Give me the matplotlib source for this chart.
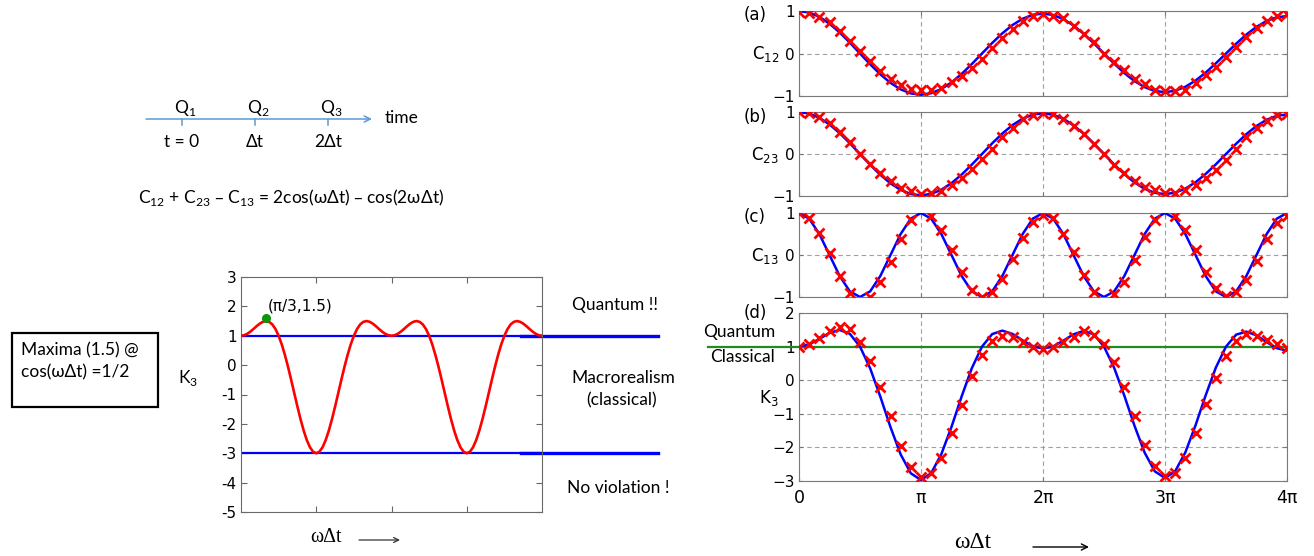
import numpy as np
import matplotlib
matplotlib.use("Agg")
import matplotlib.pyplot as plt
from matplotlib.patches import Rectangle

W, H = 1314, 556
CAL = ['Lato', 'DejaVu Sans']      # stand-in for the slide text font
SERIF = ['Liberation Serif', 'DejaVu Serif']

# ---------------- data ----------------
# left panel: K3 theory, sampled every pi/24 over 0..4pi
k3_curve = [1.0, 1.017, 1.066, 1.141, 1.232, 1.328, 1.414, 1.476, 1.5, 1.472, 1.384, 1.227,
            1.0, 0.705, 0.348, -0.058, -0.5, -0.959, -1.414, -1.846, -2.232, -2.555, -2.798, -2.949,
            -3.0, -2.949, -2.798, -2.555, -2.232, -1.846, -1.414, -0.959, -0.5, -0.058, 0.348, 0.705,
            1.0, 1.227, 1.384, 1.472, 1.5, 1.476, 1.414, 1.328, 1.232, 1.141, 1.066, 1.017,
            1.0, 1.017, 1.066, 1.141, 1.232, 1.328, 1.414, 1.476, 1.5, 1.472, 1.384, 1.227,
            1.0, 0.705, 0.348, -0.058, -0.5, -0.959, -1.414, -1.846, -2.232, -2.555, -2.798, -2.949,
            -3.0, -2.949, -2.798, -2.555, -2.232, -1.846, -1.414, -0.959, -0.5, -0.058, 0.348, 0.705,
            1.0, 1.227, 1.384, 1.472, 1.5, 1.476, 1.414, 1.328, 1.232, 1.141, 1.066, 1.017,
            1.0]
k3_bounds = [1, -3]          # quantum / classical limits
max_point = (np.pi / 3, 1.6)  # green dot
left_yticks = [-5, -4, -3, -2, -1, 0, 1, 2, 3]
left_ylabels = ['-5', '-4', '-3', '-2', '-1', '0', '1', '2', '3']

# right panels: theory (line) and measured (x), every pi/12 over 0..4pi
c12_fit = [1.000, 0.964, 0.862, 0.702, 0.495, 0.256, 0.0, -0.254, -0.490, -0.691, -0.844, -0.939,
           -0.970, -0.935, -0.836, -0.681, -0.480, -0.248, 0.0, 0.247, 0.475, 0.670, 0.818, 0.910,
           0.940, 0.906, 0.810, 0.659, 0.465, 0.240, 0.0, -0.239, -0.460, -0.649, -0.792, -0.881,
           -0.910, -0.877, -0.784, -0.638, -0.450, -0.232, 0.0, 0.231, 0.445, 0.627, 0.766, 0.852,
           0.880]
c12_meas = [0.98, 0.96, 0.87, 0.73, 0.53, 0.29, 0.055, -0.17, -0.40, -0.60, -0.73, -0.83,
            -0.87, -0.85, -0.80, -0.68, -0.53, -0.34, -0.13, 0.13, 0.36, 0.57, 0.77, 0.88,
            0.92, 0.88, 0.83, 0.65, 0.47, 0.26, 0.0, -0.21, -0.39, -0.60, -0.72, -0.85,
            -0.89, -0.88, -0.85, -0.69, -0.51, -0.31, -0.09, 0.16, 0.39, 0.59, 0.77, 0.89,
            0.93]
c23_fit = [1.000, 0.965, 0.864, 0.704, 0.498, 0.257, 0.0, -0.257, -0.495, -0.699, -0.855, -0.953,
           -0.985, -0.950, -0.851, -0.694, -0.490, -0.253, 0.0, 0.253, 0.488, 0.688, 0.842, 0.938,
           0.970, 0.936, 0.838, 0.683, 0.483, 0.250, 0.0, -0.249, -0.480, -0.678, -0.829, -0.924,
           -0.955, -0.921, -0.825, -0.673, -0.475, -0.246, 0.0, 0.245, 0.473, 0.667, 0.816, 0.909,
           0.940]
c23_meas = [1.0, 0.98, 0.88, 0.74, 0.52, 0.28, 0.0, -0.24, -0.45, -0.65, -0.80, -0.89,
            -0.96, -0.92, -0.89, -0.73, -0.58, -0.36, -0.12, 0.13, 0.40, 0.62, 0.83, 0.92,
            0.98, 0.95, 0.83, 0.67, 0.47, 0.24, 0.0, -0.25, -0.45, -0.65, -0.78, -0.86,
            -0.92, -0.92, -0.85, -0.73, -0.58, -0.37, -0.14, 0.12, 0.40, 0.62, 0.78, 0.92,
            0.95]
c13_fit = [1.0, 0.866, 0.5, 0.0, -0.5, -0.866, -1.0, -0.866, -0.5, 0.0, 0.5, 0.866,
           1.0, 0.866, 0.5, 0.0, -0.5, -0.866, -1.0, -0.866, -0.5, 0.0, 0.5, 0.866,
           1.0, 0.866, 0.5, 0.0, -0.5, -0.866, -1.0, -0.866, -0.5, 0.0, 0.5, 0.866,
           1.0, 0.866, 0.5, 0.0, -0.5, -0.866, -1.0, -0.866, -0.5, 0.0, 0.5, 0.866,
           1.0]
c13_meas = [1.0, 0.89, 0.52, 0.05, -0.51, -0.90, np.nan, -1.0, -0.65, -0.17, 0.39, 0.84,
            np.nan, 0.94, 0.60, 0.13, -0.40, -0.83, -1.0, -0.89, -0.57, -0.10, 0.40, 0.79,
            0.96, 0.87, 0.51, 0.07, -0.48, -0.87, np.nan, -0.94, -0.65, -0.13, 0.43, 0.83,
            np.nan, 0.94, 0.60, 0.13, -0.40, -0.79, -0.98, -0.88, -0.59, -0.14, 0.37, 0.76,
            0.92]
k3_fit = [1.0, 1.064, 1.228, 1.409, 1.495, 1.381, 1.0, 0.353, -0.490, -1.398, -2.210, -2.771,
          -2.970, -2.767, -2.202, -1.388, -0.480, 0.359, 1.0, 1.372, 1.475, 1.377, 1.184, 1.010,
          0.940, 1.006, 1.176, 1.366, 1.465, 1.365, 1.0, 0.368, -0.460, -1.356, -2.158, -2.713,
          -2.910, -2.709, -2.150, -1.345, -0.450, 0.375, 1.0, 1.356, 1.445, 1.334, 1.132, 0.952,
          0.880]
k3_meas = [0.98, 1.08, 1.27, 1.45, 1.58, 1.53, 1.13, 0.57, -0.20, -1.07, -1.95, -2.59,
           -2.87, -2.75, -2.33, -1.58, -0.74, 0.13, 0.75, 1.17, 1.33, 1.30, 1.15, 1.00,
           0.92, 1.00, 1.13, 1.30, 1.45, 1.35, 1.07, 0.53, -0.20, -1.07, -1.93, -2.54,
           -2.84, -2.77, -2.33, -1.58, -0.72, 0.07, 0.72, 1.18, 1.38, 1.33, 1.20, 1.07,
           0.97]
x_labels = ['0', 'π', '2π', '3π', '4π']

timeline_Q = ['Q$_{\\mathregular{1}}$', 'Q$_{\\mathregular{2}}$', 'Q$_{\\mathregular{3}}$']
timeline_t = ['t = 0', 'Δt', '2Δt']

x_fine = np.arange(len(k3_curve)) * np.pi / 24
x_grid = np.arange(len(c12_fit)) * np.pi / 12


def box(x0, y0, x1, y1):
    # pixel box (top-left origin) -> figure fraction
    return [x0 / W, 1 - y1 / H, (x1 - x0) / W, (y1 - y0) / H]


plt.rcParams['font.family'] = ['DejaVu Sans']
plt.rcParams['mathtext.fontset'] = 'dejavusans'

fig = plt.figure(figsize=(W / 100, H / 100), dpi=100)

# ---------------- left panel ----------------
axl = fig.add_axes(box(241, 277, 542, 512))
for yb in k3_bounds:
    axl.axhline(yb, color='#0000ff', lw=1.6, zorder=2)
    axl.axhline(yb, xmin=0.93, xmax=1.385, color='#0000ff', lw=2.4, clip_on=False, zorder=2)
axl.plot(x_fine, k3_curve, color='#ff0000', lw=1.9, zorder=3)
axl.plot(*max_point, 'o', color='#0a960a', ms=5.5, zorder=4)
axl.text(max_point[0] + 0.05, 2.0, '(π/3,1.5)', fontsize=11, va='center', ha='left')
axl.set_xlim(0, 4 * np.pi)
axl.set_ylim(-5, 3)
axl.set_xticks(np.arange(1, 4) * np.pi)
axl.set_xticklabels([])
axl.set_yticks(left_yticks)
axl.set_yticklabels(left_ylabels, fontsize=11)
axl.tick_params(direction='in', length=4, color='#666', top=True, right=True, pad=3)
for s in axl.spines.values():
    s.set_color('#6a6a6a')

# ---------------- right panels ----------------
def style_right(ax, yt, show_x):
    ax.set_xlim(0, 4 * np.pi)
    ax.set_ylim(yt[0], yt[-1])
    ax.set_xticks(np.arange(5) * np.pi)
    ax.set_yticks(yt)
    ax.set_yticklabels([str(v).replace('-', '−') for v in yt], fontsize=11)
    if show_x:
        ax.set_xticklabels(x_labels, fontsize=12.5)
    else:
        ax.set_xticklabels([])
    ax.grid(True, ls=(0, (4, 3)), color='#a0a0a0', lw=0.8)
    ax.tick_params(direction='in', length=3, color='#777', top=True, right=True, pad=3)
    ax.tick_params(axis='x', pad=6)
    for s in ax.spines.values():
        s.set_color('#7a7a7a')


panels = [(c12_fit, c12_meas, (11, 96), [-1, 0, 1]),
          (c23_fit, c23_meas, (112, 196), [-1, 0, 1]),
          (c13_fit, c13_meas, (213, 297), [-1, 0, 1]),
          (k3_fit, k3_meas, (313, 481), [-3, -2, -1, 0, 1, 2])]
axes_r = []
for i, (fit, meas, (y0, y1), yt) in enumerate(panels):
    ax = fig.add_axes(box(799, y0, 1287, y1))
    ax.plot(x_grid, fit, color='#0000ff', lw=1.8, zorder=3)
    ax.plot(x_grid, meas, 'x', color='#ff0000', ms=6.5, mew=2.0, zorder=4)
    style_right(ax, yt, i == 3)
    axes_r.append(ax)

# quantum / classical border in (d), runs out past the left edge
axes_r[3].axhline(1, xmin=-0.187, xmax=1, color='#1e8c1e', lw=1.6, clip_on=False, zorder=2)

# ---------------- overlay (text, arrows, box) ----------------
bg = fig.add_axes([0, 0, 1, 1], zorder=10)
bg.set_xlim(0, W)
bg.set_ylim(H, 0)
bg.axis('off')

# timeline
bg.annotate('', xy=(372, 119), xytext=(146, 119),
            arrowprops=dict(arrowstyle='->', color='#5b9bd5', lw=1.1,
                            mutation_scale=11, shrinkA=0, shrinkB=0))
for xt, q, t in zip([182, 255, 328], timeline_Q, timeline_t):
    bg.plot([xt, xt], [119, 125], color='#5b9bd5', lw=1.1)
    bg.text(xt + 3, 108, q, family=CAL, fontsize=12.5, ha='center', va='center')
    bg.text(xt, 142, t, family=CAL, fontsize=12.5, ha='center', va='center')
bg.text(385, 118, 'time', family=CAL, fontsize=12.5, ha='left', va='center')

bg.text(291, 198, 'C$_{\\mathregular{12}}$ + C$_{\\mathregular{23}}$ – C$_{\\mathregular{13}}$'
        ' = 2cos(ωΔt) – cos(2ωΔt)', family=CAL, fontsize=12.5, ha='center', va='center')

# note box
bg.add_patch(Rectangle((12, 333), 146, 74, fill=False, ec='black', lw=1.6))
bg.text(21, 350, 'Maxima (1.5) @', family=CAL, fontsize=12.5, ha='left', va='center')
bg.text(21, 372, 'cos(ωΔt) =1/2', family=CAL, fontsize=12.5, ha='left', va='center')

# left panel labels
bg.text(188, 378, 'K$_{\\mathregular{3}}$', family=CAL, fontsize=12.5, ha='center', va='center')
bg.text(326, 538, 'ωΔt', family=SERIF, fontsize=14.5, ha='center', va='center')
bg.annotate('', xy=(400, 540), xytext=(359, 540),
            arrowprops=dict(arrowstyle='->', color='#333', lw=0.9,
                            mutation_scale=9, shrinkA=0, shrinkB=0))
bg.text(572, 305, 'Quantum !!', family=CAL, fontsize=12.5, ha='left', va='center')
bg.text(571, 378, 'Macrorealism', family=CAL, fontsize=12.5, ha='left', va='center')
bg.text(586, 400, '(classical)', family=CAL, fontsize=12.5, ha='left', va='center')
bg.text(567, 488, 'No violation !', family=CAL, fontsize=12.5, ha='left', va='center')

# right panel labels
for lab, yc in zip(['(a)', '(b)', '(c)', '(d)'], [15, 117, 217, 313]):
    bg.text(755, yc, lab, fontsize=12, ha='center', va='center')
for lab, yc in zip(['C$_{\\mathregular{12}}$', 'C$_{\\mathregular{23}}$',
                    'C$_{\\mathregular{13}}$', 'K$_{\\mathregular{3}}$'], [54, 155, 256, 398]):
    bg.text(779, yc, lab, fontsize=12, ha='right', va='center')
bg.text(775, 332, 'Quantum', family=CAL, fontsize=12.5, ha='right', va='center')
bg.text(775, 357, 'Classical', family=CAL, fontsize=12.5, ha='right', va='center')
bg.text(973, 543, 'ωΔt', family=SERIF, fontsize=17, ha='center', va='center')
bg.annotate('', xy=(1089, 547), xytext=(1033, 547),
            arrowprops=dict(arrowstyle='->', color='black', lw=1.0,
                            mutation_scale=11, shrinkA=0, shrinkB=0))

fig.savefig('out.png', dpi=100)
